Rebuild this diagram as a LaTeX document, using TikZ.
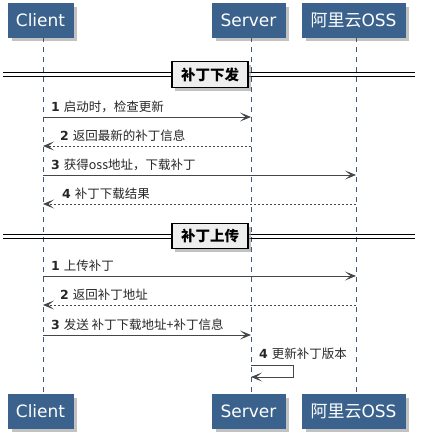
\documentclass[tikz,border=0pt]{standalone}
\usepackage{fontspec}
\setmainfont{DejaVu Sans}
\newfontfamily\cjk{Noto Sans CJK SC}
\usetikzlibrary{arrows.meta,shadows}
\definecolor{partblue}{RGB}{58,98,140}
\definecolor{lifeblue}{RGB}{60,90,120}
\definecolor{msggray}{RGB}{70,70,70}
\definecolor{sepfill}{RGB}{238,238,238}
\begin{document}
\begin{tikzpicture}[x=1pt,y=-1pt,
  part/.style={fill=partblue,draw=partblue,text=white,inner sep=0pt,
    font=\fontsize{17}{20}\selectfont,
    drop shadow={shadow xshift=4pt,shadow yshift=-4pt,fill=black!40,opacity=0.6}},
  life/.style={draw=lifeblue,dash pattern=on 5pt off 5pt,line width=0.7pt},
  msg/.style={draw=msggray,line width=0.9pt,-{Stealth[length=11pt,width=9pt,inset=5.5pt,fill=msggray]}},
  ret/.style={msg,dash pattern=on 2pt off 2pt},
  lbl/.style={anchor=south west,inner sep=0pt,font=\fontsize{12.5}{14}\selectfont,text=black!85},
  sepbox/.style={draw=black,line width=1.3pt,fill=sepfill,inner sep=0pt,
    font=\cjk\bfseries\fontsize{14.5}{16}\selectfont,
    drop shadow={shadow xshift=3pt,shadow yshift=-3pt,fill=black!40,opacity=0.6}},
  sepline/.style={draw=black,line width=0.9pt}
]
\useasboundingbox (0,0) rectangle (426,439);
% participants
\node[part,minimum width=65pt,minimum height=34pt] (ct) at (40.5,20) {Client};
\node[part,minimum width=73pt,minimum height=34pt] (st) at (248.5,20) {Server};
\node[part,minimum width=103pt,minimum height=34pt] (ot) at (353.5,20) {{\cjk 阿里云}OSS};
\node[part,minimum width=65pt,minimum height=34pt] (cb) at (40.5,411) {Client};
\node[part,minimum width=73pt,minimum height=34pt] (sb) at (248.5,411) {Server};
\node[part,minimum width=103pt,minimum height=34pt] (ob) at (353.5,411) {{\cjk 阿里云}OSS};
% lifelines
\coordinate (cl1) at (43,37); \coordinate (cl2) at (43,394);
\coordinate (sl1) at (251,37); \coordinate (sl2) at (251,394);
\coordinate (ol1) at (356,37); \coordinate (ol2) at (356,394);
\draw[life] (cl1) -- (cl2);
\draw[life] (sl1) -- (sl2);
\draw[life] (ol1) -- (ol2);
% separator 1
\coordinate (s1l) at (3,74.5); \coordinate (s1r) at (415,74.5);
\draw[sepline] ([yshift=-1.6pt]s1l) -- ([yshift=-1.6pt]s1r);
\draw[sepline] ([yshift=1.6pt]s1l) -- ([yshift=1.6pt]s1r);
\node[sepbox,minimum width=76pt,minimum height=26pt] (sep1) at (210,74.5) {补丁下发};
% messages block 1
\coordinate (c1) at (43,117); \coordinate (s1) at (251,117);
\draw[msg] (c1) -- (s1);
\node[lbl] (t1) at (51,113) {\textbf{1} {\cjk 启动时，检查更新}};
\coordinate (c2) at (43,146); \coordinate (s2) at (251,146);
\draw[ret] (s2) -- (c2);
\node[lbl] (t2) at (60,142) {\textbf{2} {\cjk 返回最新的补丁信息}};
\coordinate (c3) at (43,175); \coordinate (o3) at (356,175);
\draw[msg] (c3) -- (o3);
\node[lbl] (t3) at (51,171) {\textbf{3} {\cjk 获得oss地址，下载补丁}};
\coordinate (c4) at (43,204); \coordinate (o4) at (356,204);
\draw[ret] (o4) -- (c4);
\node[lbl] (t4) at (62,200) {\textbf{4} {\cjk 补丁下载结果}};
% separator 2
\coordinate (s2l) at (3,236.5); \coordinate (s2r) at (415,236.5);
\draw[sepline] ([yshift=-1.6pt]s2l) -- ([yshift=-1.6pt]s2r);
\draw[sepline] ([yshift=1.6pt]s2l) -- ([yshift=1.6pt]s2r);
\node[sepbox,minimum width=76pt,minimum height=25pt] (sep2) at (210,236) {补丁上传};
% messages block 2
\coordinate (c5) at (43,276); \coordinate (o5) at (356,276);
\draw[msg] (c5) -- (o5);
\node[lbl] (t5) at (51,272) {\textbf{1} {\cjk 上传补丁}};
\coordinate (c6) at (43,305); \coordinate (o6) at (356,305);
\draw[ret] (o6) -- (c6);
\node[lbl] (t6) at (60,301) {\textbf{2} {\cjk 返回补丁地址}};
\coordinate (c7) at (43,335); \coordinate (s7) at (251,335);
\draw[msg] (c7) -- (s7);
\node[lbl] (t7) at (51,331) {\textbf{3} {\cjk 发送 补丁下载地址+补丁信息}};
\coordinate (s8a) at (251,365); \coordinate (s8b) at (251,377);
\draw[msg] (s8a) -- (293,365) -- (293,377) -- (s8b);
\node[lbl] (t8) at (259,360) {\textbf{4} {\cjk 更新补丁版本}};
\end{tikzpicture}
\end{document}
